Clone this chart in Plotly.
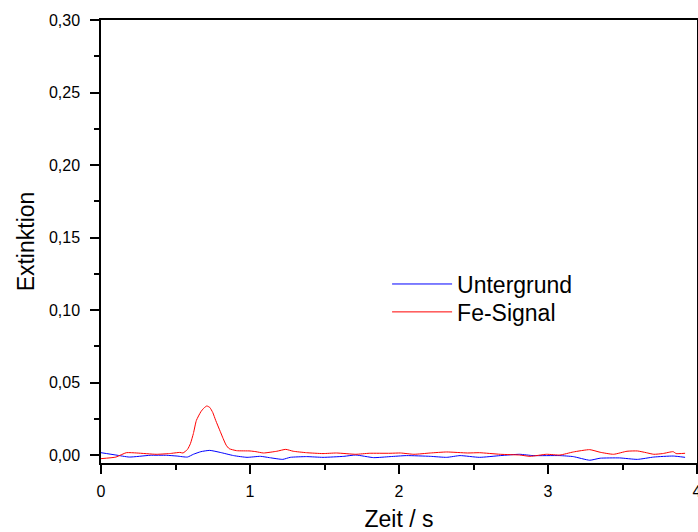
import plotly.graph_objects as go

# Fe-Signal (red)
fe_x = [0.00, 0.10, 0.17, 0.24, 0.37, 0.46, 0.53, 0.55, 0.58, 0.60, 0.62, 0.64, 0.67, 0.69,
        0.71, 0.73, 0.75, 0.77, 0.80, 0.82, 0.84, 0.86, 0.91, 1.00, 1.04, 1.09, 1.18, 1.24,
        1.29, 1.38, 1.49, 1.58, 1.71, 1.80, 1.94, 2.01, 2.10, 2.21, 2.32, 2.46, 2.54, 2.68,
        2.81, 2.88, 2.99, 3.08, 3.17, 3.28, 3.35, 3.44, 3.53, 3.60, 3.66, 3.71, 3.77, 3.84,
        3.86, 3.92]
fe_y = [-0.0023, -0.0012, 0.0018, 0.0016, 0.0007, 0.0012, 0.0020, 0.0016, 0.0040, 0.0080,
        0.0150, 0.0240, 0.0300, 0.0325, 0.0340, 0.0330, 0.0295, 0.0240, 0.0165, 0.0115,
        0.0070, 0.0046, 0.0032, 0.0030, 0.0025, 0.0016, 0.0028, 0.0041, 0.0028, 0.0018,
        0.0012, 0.0016, 0.0007, 0.0014, 0.0014, 0.0016, 0.0007, 0.0016, 0.0023, 0.0016,
        0.0018, 0.0007, 0.0002, -0.0007, 0.0007, 0.0002, 0.0023, 0.0039, 0.0021, 0.0007,
        0.0028, 0.0030, 0.0018, 0.0007, 0.0012, 0.0025, 0.0012, 0.0014]

# Untergrund (blue)
ug_x = [0.00, 0.10, 0.19, 0.33, 0.44, 0.51, 0.58, 0.62, 0.67, 0.73, 0.80, 0.89, 0.98, 1.07,
        1.13, 1.22, 1.27, 1.38, 1.49, 1.63, 1.71, 1.83, 1.94, 2.05, 2.21, 2.32, 2.41, 2.54,
        2.68, 2.81, 2.90, 3.08, 3.17, 3.28, 3.35, 3.48, 3.60, 3.71, 3.84, 3.92]
ug_y = [0.0018, 0.0002, -0.0012, 0.0000, 0.0000, -0.0005, -0.0012, 0.0007, 0.0025, 0.0034,
        0.0020, -0.0002, -0.0014, -0.0007, -0.0016, -0.0028, -0.0014, -0.0009, -0.0014,
        -0.0007, 0.0002, -0.0016, -0.0009, -0.0002, -0.0007, -0.0014, -0.0002, -0.0014,
        -0.0002, 0.0007, -0.0002, -0.0002, -0.0009, -0.0034, -0.0020, -0.0018, -0.0028,
        -0.0012, -0.0005, -0.0014]

x_ticks = [0, 1, 2, 3, 4]
y_ticks = [0.00, 0.05, 0.10, 0.15, 0.20, 0.25, 0.30]

FONT = "Liberation Sans, Arial, sans-serif"

fig = go.Figure()
fig.add_trace(go.Scatter(x=ug_x, y=ug_y, mode="lines", name="Untergrund", legend="legend",
                         line=dict(color="#0000ff", width=1, shape="spline", smoothing=0.5)))
fig.add_trace(go.Scatter(x=fe_x, y=fe_y, mode="lines", name="Fe-Signal", legend="legend2",
                         line=dict(color="#ff0000", width=1, shape="spline", smoothing=0.5)))

axis_common = dict(showgrid=False, zeroline=False, showline=True, linecolor="black",
                   linewidth=1.5, mirror=True, ticks="outside", ticklen=9, tickwidth=1.5,
                   tickcolor="black", ticklabeloverflow="allow", automargin=False,
                   tickfont=dict(family=FONT, size=16, color="black"))

legend_common = dict(xanchor="left", yanchor="middle", bgcolor="rgba(0,0,0,0)",
                     font=dict(family=FONT, size=23, color="black"), itemwidth=60)

fig.update_layout(
    width=698, height=532,
    margin=dict(l=101, r=1, t=20, b=69),
    paper_bgcolor="white", plot_bgcolor="white",
    separators=",.",
    showlegend=True,
    legend=dict(x=0.48, y=0.404, **legend_common),
    legend2=dict(x=0.48, y=0.341, **legend_common),
    xaxis=dict(range=[0, 4], tickvals=x_ticks, ticktext=[str(v) for v in x_ticks],
               ticklabelstandoff=4,
               minor=dict(dtick=0.5, ticklen=5, tickwidth=1.5, tickcolor="black", ticks="outside"),
               title=dict(text="Zeit / s", font=dict(family=FONT, size=23, color="black"),
                          standoff=18),
               **axis_common),
    yaxis=dict(range=[-0.0053, 0.30], tickvals=y_ticks, tickformat=".2f",
               ticklabelstandoff=7,
               minor=dict(dtick=0.025, tick0=0, ticklen=5, tickwidth=1.5, tickcolor="black",
                          ticks="outside"),
               title=dict(text="Extinktion", font=dict(family=FONT, size=23, color="black"),
                          standoff=8),
               **axis_common),
)

fig.write_html("out.html")
